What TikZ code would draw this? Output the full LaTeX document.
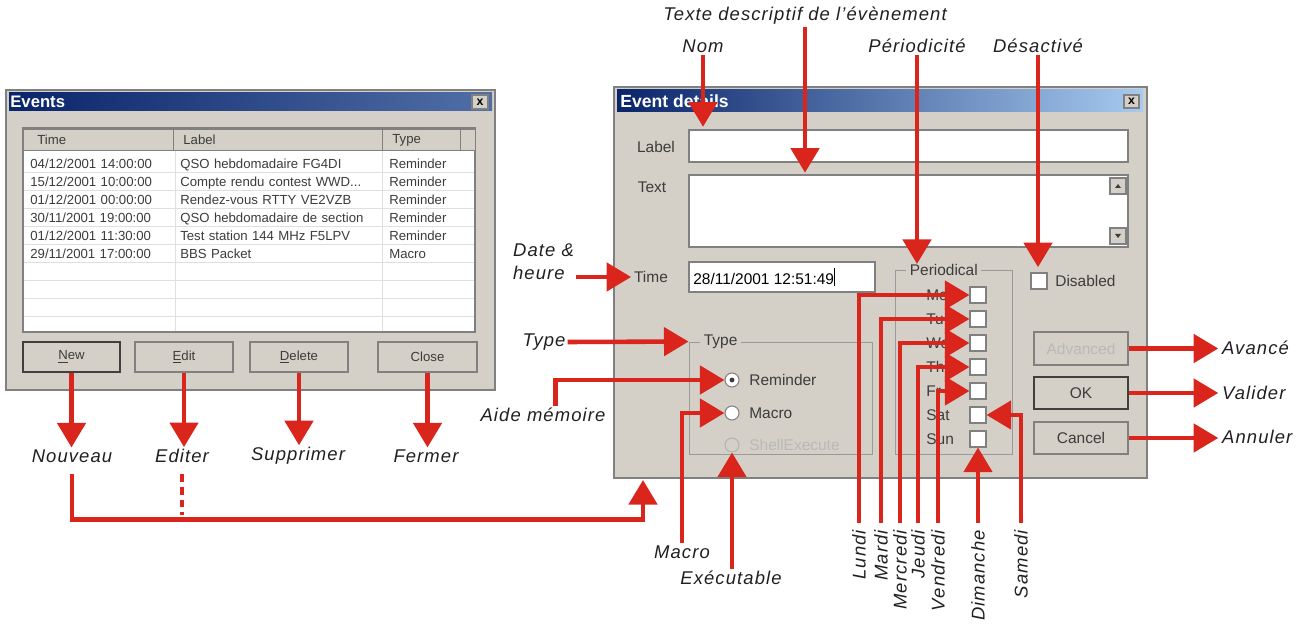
\documentclass[tikz,border=0pt]{standalone}
\usepackage{fontspec}
\setmainfont{Liberation Sans}
\newfontfamily\annfont[LetterSpace=6]{Liberation Sans}
\usetikzlibrary{arrows.meta,positioning,shapes,matrix,fit,calc}
\definecolor{wingray}{RGB}{212,208,200}
\definecolor{annred}{RGB}{218,37,29}
\definecolor{anntext}{RGB}{35,31,32}
\definecolor{tbdark}{RGB}{10,36,106}
\definecolor{tblight}{RGB}{166,202,240}
\definecolor{guitext}{RGB}{60,60,60}
\definecolor{edge}{RGB}{128,128,128}

\begin{document}
\begin{tikzpicture}[x=0.02cm,y=-0.02cm,
  ann/.style={draw=annred,line width=2.6pt,-{Triangle[length=14pt,width=16pt]}},
  annline/.style={draw=annred,line width=2.6pt},
  lbl/.style={font=\annfont\itshape\fontsize{10.5}{13}\selectfont,text=anntext,inner sep=1pt},
  gui/.style={font=\fontsize{8.8}{10}\selectfont,text=guitext,inner sep=0pt},
  lst/.style={font=\fontsize{7.5}{9}\selectfont,text=guitext},
  win/.style={draw=edge,fill=wingray,line width=0.6pt,inner sep=0pt},
  sunken/.style={draw=edge,fill=white,line width=0.6pt,inner sep=0pt},
  btn/.style={draw=edge,fill=wingray,line width=0.8pt,inner sep=0pt},
  defbtn/.style={btn,draw=black!75,line width=1.1pt},
  btntxt/.style={gui,font=\fontsize{7.5}{9}\selectfont},
  etched/.style={draw=edge!80,line width=0.5pt,inner sep=0pt},
  radio/.style={circle,draw=edge,fill=white,line width=0.6pt,minimum size=0.28cm,inner sep=0pt},
  chk/.style={sunken,minimum size=0.32cm},
  ]
\useasboundingbox (0,0) rectangle (1310,624);

% Events window
\node[win,fit={(6,90) (495,390)}] (evlist) {};
\shade[left color=tbdark,right color=tbdark!55!tblight] (9,93) rectangle (492,111);
\node[anchor=west,text=white,font=\bfseries\fontsize{9.5}{11}\selectfont,inner sep=0pt] (evtitle) at (10,102) {Events};
\node[btn,fit={(472,95) (488,109)}] (evclose) {};
\node[font=\bfseries\fontsize{7}{8}\selectfont,inner sep=0pt] at (evclose) {x};
\node[sunken,fit={(23,128) (475,332)}] (lstbox) {};
\foreach \a/\b in {23/173,173/382,382/460,460/475}
  \draw[draw=edge,fill=wingray] (\a,129) rectangle (\b,150);
\node[lst,anchor=west,inner sep=0pt] (hTime) at (37,140) {Time};
\node[lst,anchor=west,inner sep=0pt] (hLabel) at (183,140) {Label};
\node[lst,anchor=west,inner sep=0pt] (hType) at (392,140) {Type};
\foreach \y in {172,190,...,316} \draw[gray!25] (24,\y) -- (474,\y);
\foreach \x in {175,382} \draw[gray!25] (\x,151) -- (\x,331);
\matrix[matrix of nodes,anchor=north west,inner sep=0pt,row sep=0pt,column sep=0pt,ampersand replacement=\&,
  nodes={lst,anchor=west,inner xsep=0.14cm,inner ysep=0pt,minimum height=0.36cm,text height=1.5ex,text depth=0.3ex},
  column 1/.style={nodes={text width=2.72cm}},
  column 2/.style={nodes={text width=3.9cm}},
  column 3/.style={nodes={text width=1.28cm}}] (rows) at (23,154) {
  04/12/2001 14:00:00 \& QSO hebdomadaire FG4DI \& Reminder\\
  15/12/2001 10:00:00 \& Compte rendu contest WWD... \& Reminder\\
  01/12/2001 00:00:00 \& Rendez-vous RTTY VE2VZB \& Reminder\\
  30/11/2001 19:00:00 \& QSO hebdomadaire de section \& Reminder\\
  01/12/2001 11:30:00 \& Test station 144 MHz F5LPV \& Reminder\\
  29/11/2001 17:00:00 \& BBS Packet \& Macro\\
};
\node[defbtn,fit={(23,342) (120,372)}] (btnNew) {};
\node[btn,fit={(135,342) (233,372)}] (btnEdit) {};
\node[btn,fit={(250,342) (348,372)}] (btnDel) {};
\node[btn,fit={(378,342) (477,372)}] (btnClose) {};
\node[btntxt] at (btnNew) {\underline{N}ew};
\node[btntxt] at (btnEdit) {\underline{E}dit};
\node[btntxt] at (btnDel) {\underline{D}elete};
\node[btntxt] at (btnClose) {Close};

% Event details window
\node[win,fit={(614,87) (1147,478)}] (evwin) {};
\shade[left color=tbdark,right color=tblight] (617,90) rectangle (1143,112);
\node[anchor=west,text=white,font=\bfseries\fontsize{10}{12}\selectfont,inner sep=0pt] (edtitle) at (620,101) {Event details};
\node[btn,fit={(1124,95) (1139,108)}] (edclose) {};
\node[font=\bfseries\fontsize{7}{8}\selectfont,inner sep=0pt] at (edclose) {x};
\node[gui] (lbltxt) at (656,147) {Label};
\node[sunken,fit={(689,130) (1128,162)}] (lblbox) {};
\node[gui] (txtlbl) at (652,187) {Text};
\node[sunken,fit={(689,175) (1128,247)}] (txtbox) {};
\node[btn,fit={(1110,178) (1126,194)}] (scrup) {};
\node[btn,fit={(1110,228) (1126,244)}] (scrdown) {};
\fill[guitext] (scrup.center) ++(-3,2) -- ++(6,0) -- ++(-3,-4) -- cycle;
\fill[guitext] (scrdown.center) ++(-3,-2) -- ++(6,0) -- ++(-3,4) -- cycle;
\node[gui] (timelbl) at (651,277) {Time};
\node[sunken,fit={(689,262) (875,292)}] (timebox) {};
\node[gui,anchor=west,text=black] (timeval) at (693,277) {28/11/2001 12:51:49\rule[-1pt]{0.6pt}{10pt}};

\node[etched,fit={(895,270) (1012,454)}] (perigrp) {};
\node[gui,fill=wingray,inner xsep=2pt,anchor=west] (periolbl) at (906,270) {Periodical};
\foreach \d/\y in {Mo/295,Tu/319,We/343,Th/367,Fr/391,Sat/415,Sun/439}{
  \node[gui,anchor=west] at (926,\y) {\d};
  \node[chk] (cb\d) at (978,\y) {};
}
\node[chk] (disbox) at (1039,281) {};
\node[gui,anchor=west] (distxt) at (1055,281) {Disabled};

\node[etched,fit={(689,342) (872,454)}] (typegrp) {};
\node[gui,fill=wingray,inner xsep=2pt,anchor=west] (typetitle) at (700,342) {Type};
\node[radio] (rrem) at (732,380) {};
\fill[guitext] (rrem) circle (1.4pt);
\node[gui,anchor=west] (remtxt) at (749,380) {Reminder};
\node[radio] (rmac) at (732,413) {};
\node[gui,anchor=west] (mactxt) at (749,413) {Macro};
\node[radio,fill=wingray,draw=edge!60] (rshell) at (732,445) {};
\node[gui,anchor=west,text=gray!55] (shelltxt) at (749,445) {ShellExecute};

\node[btn,fit={(1034,332) (1128,365)}] (btnAdv) {};
\node[defbtn,fit={(1034,377) (1128,409)}] (btnOK) {};
\node[btn,fit={(1034,422) (1128,454)}] (btnCancel) {};
\node[gui,text=gray!55] at (btnAdv) {Advanced};
\node[gui] at (btnOK) {OK};
\node[gui] at (btnCancel) {Cancel};

% annotations
\node[lbl] (descr) at (805,16) {Texte descriptif de l’évènement};
\node[lbl] (nom) at (703,46) {Nom};
\node[lbl] (perio) at (917,46) {Périodicité};
\node[lbl] (desact) at (1038,46) {Désactivé};
\node[lbl,align=left,anchor=west] (dateh) at (511,262) {Date \&\\heure};
\node[lbl] (typelbl) at (544,342) {Type};
\node[lbl] (aide) at (543,415) {Aide mémoire};
\node[lbl] (macrolbl) at (682,552) {Macro};
\node[lbl] (exec) at (731,578) {Exécutable};
\node[lbl] (nouveau) at (72,456) {Nouveau};
\node[lbl] (editer) at (182,456) {Editer};
\node[lbl] (suppr) at (298,456) {Supprimer};
\node[lbl] (fermer) at (426,456) {Fermer};
\node[lbl,anchor=west] (avance) at (1220,348) {Avancé};
\node[lbl,anchor=west] (valider) at (1220,393) {Valider};
\node[lbl,anchor=west] (annuler) at (1220,437) {Annuler};
\foreach \n/\t/\x in {lundi/Lundi/859,mardi/Mardi/881,mercredi/Mercredi/900,jeudi/Jeudi/918,
    vendredi/Vendredi/938,dimanche/Dimanche/978,samedi/Samedi/1021}
  \node[lbl,rotate=90,anchor=east] (\n) at (\x,528) {\t};

\draw[ann] (nom.south) -- ([yshift=1.5pt]nom.south |- lblbox.north);
\draw[ann] (descr.south) -- ([yshift=1pt]descr.south |- txtbox.north);
\draw[ann] (perio.south) -- (perio.south |- periolbl.north);
\draw[ann] (desact.south) -- ([yshift=3pt]desact.south |- disbox.north);
\draw[ann,shorten >=1.5pt] (dateh.east |- timelbl.west) -- (timelbl.west);
\draw[ann] (typelbl.east) -- (typegrp.north west);
\draw[ann] ([xshift=7pt]aide.north) |- (rrem.west);
\draw[ann] (macrolbl.north) |- (rmac.west);
\draw[ann] (rshell.south |- exec.north) -- (rshell.south);
\foreach \n/\c in {lundi/Mo,mardi/Tu,mercredi/We,jeudi/Th,vendredi/Fr}
  \draw[ann,shorten <=3pt] (\n.east) |- (cb\c.west);
\draw[ann,shorten <=3pt] (samedi.east) |- (cbSat.east);
\draw[ann,shorten <=3pt] (dimanche.east) -- (cbSun.south);
\foreach \b/\l in {btnNew/nouveau,btnEdit/editer,btnDel/suppr,btnClose/fermer}
  \draw[ann] (\b.south) -- (\b.south |- \l.north);
\foreach \b/\l in {btnAdv/avance,btnOK/valider,btnCancel/annuler}
  \draw[ann] (\b.east) -- ([xshift=-1pt]\b.east -| \l.west);
\coordinate (edtip) at (643,480);
\draw[ann] (nouveau.south) ++(0,9) -- ++(0,46) -| (edtip);
\draw[annline,dash pattern=on 4.5pt off 2.8pt] (editer.south) ++(0,9) -- ++(0,41);
\end{tikzpicture}
\end{document}
